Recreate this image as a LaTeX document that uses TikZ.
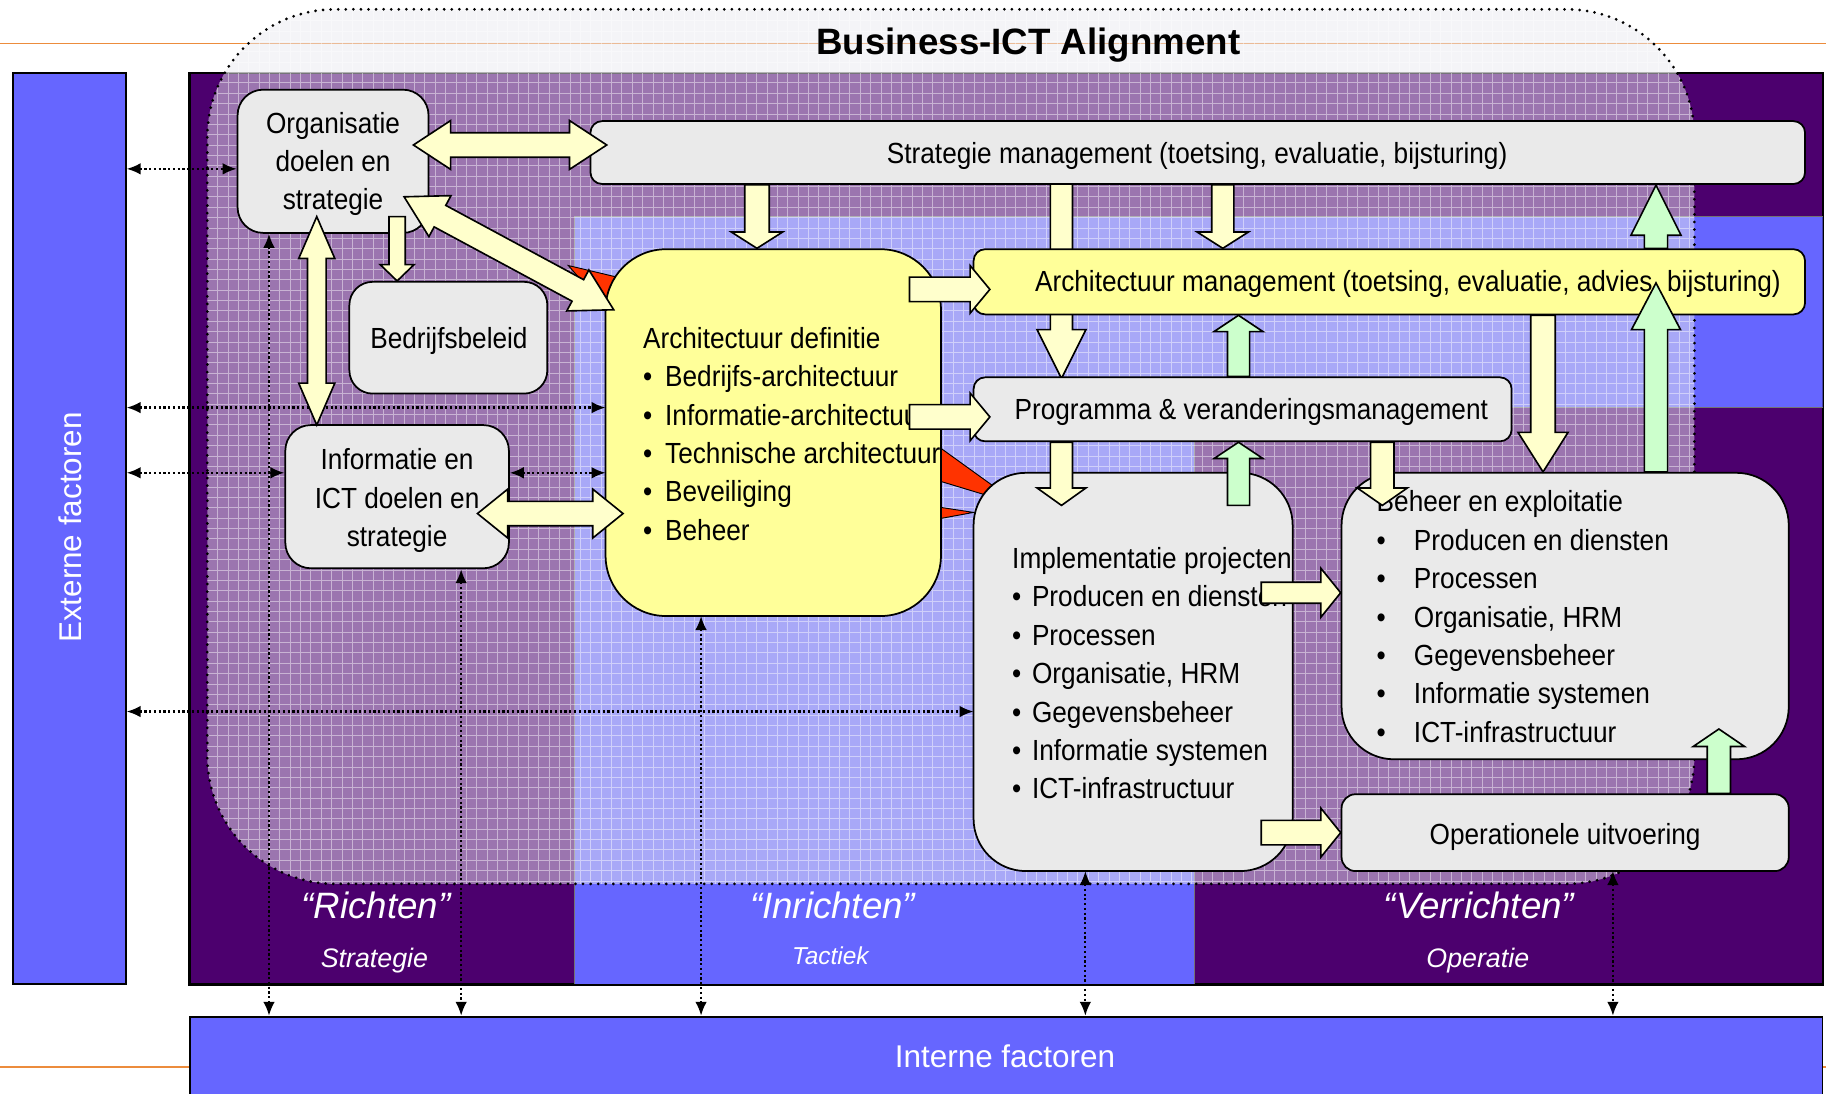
\documentclass[tikz,border=0pt]{standalone}
\usepackage{fontspec}
\setmainfont{Liberation Sans}
\newfontfamily\narrowfont{Liberation Sans}[FakeStretch=0.9]
\usetikzlibrary{calc,arrows.meta}
\definecolor{purp}{RGB}{76,0,110}
\definecolor{blu}{RGB}{102,102,255}
\definecolor{boxgrey}{RGB}{234,234,234}
\definecolor{boxyellow}{RGB}{255,255,153}
\definecolor{arryellow}{RGB}{255,255,204}
\definecolor{arrgreen}{RGB}{204,255,204}
\definecolor{callred}{RGB}{255,51,0}
\definecolor{orangeline}{RGB}{236,140,60}
\definecolor{overlaycol}{RGB}{235,235,240}

% single block arrow: #1 tail, #2 tip, #3 shaft half width, #4 head half width, #5 head length, #6 fill
\newcommand\blkarrow[6]{%
  \path ($(#2)!#5!(#1)$) coordinate (bxH);
  \draw[blockarrow, fill=#6] ($(#1)!#3!90:(#2)$) -- ($(bxH)!#3!90:(#2)$) -- ($(bxH)!#4!90:(#2)$) -- (#2) -- ($(bxH)!#4!-90:(#2)$) -- ($(bxH)!#3!-90:(#2)$) -- ($(#1)!#3!-90:(#2)$) -- cycle;}
% double block arrow
\newcommand\dblkarrow[6]{%
  \path ($(#1)!#5!(#2)$) coordinate (bxA) ($(#2)!#5!(#1)$) coordinate (bxB);
  \draw[blockarrow, fill=#6] (#1) -- ($(bxA)!#4!90:(#2)$) -- ($(bxA)!#3!90:(#2)$) -- ($(bxB)!#3!90:(#2)$) -- ($(bxB)!#4!90:(#2)$) -- (#2) -- ($(bxB)!#4!-90:(#2)$) -- ($(bxB)!#3!-90:(#2)$) -- ($(bxA)!#3!-90:(#2)$) -- ($(bxA)!#4!-90:(#2)$) -- cycle;}

\begin{document}
\begin{tikzpicture}[x=1pt,y=-1pt,
  box/.style={draw=black, line width=1.5pt, inner sep=0pt},
  greyb/.style={box, fill=boxgrey},
  yelb/.style={box, fill=boxyellow},
  txt/.style={inner sep=0pt, font=\narrowfont\fontsize{25}{30}\selectfont},
  lbl/.style={inner sep=0pt, text=white, font=\fontsize{27}{30}\selectfont},
  colbig/.style={inner sep=0pt, text=white, font=\itshape\fontsize{31.5}{34}\selectfont, anchor=base},
  colsmall/.style={inner sep=0pt, text=white, font=\itshape\fontsize{23}{26}\selectfont, anchor=base},
  dotarrow/.style={line width=1.9pt, dash pattern=on 1.9pt off 2.2pt, {Latex[length=12pt,width=10pt]}-{Latex[length=12pt,width=10pt]}},
  blockarrow/.style={draw=black, line width=1.4pt, line join=miter},
  zoneline/.style={draw=black!55, line width=1pt},
  callout/.style={fill=callred, draw=black, line width=0.8pt}]
\useasboundingbox (0,0) rectangle (1568,939);
\fill[white] (0,0) rectangle (1568,939);
\draw[orangeline, line width=1pt] (0,37) -- (1568,37);
\draw[orangeline, line width=1.4pt] (0,916) -- (1568,916);

% background zones
\node[box, fill=purp, minimum width=1402pt, minimum height=782pt] (main) at (864,454) {};
\fill[blu] (493,186) -- (1565,186) -- (1565,350) -- (1026,350) -- (1026,845) -- (493,845) -- cycle;
\draw[zoneline] (493,845) -- (493,186) -- (1565,186);
\draw[zoneline] (1565,350) -- (1026,350) -- (1026,845);
\draw[line width=1.5pt] (main.north west) rectangle (main.south east);
\node[box, fill=blu, minimum width=97pt, minimum height=782pt] (ext) at (59.5,454) {};
\node[box, fill=blu, minimum width=1402pt, minimum height=70pt] (int) at (864,908) {};

% Business-ICT alignment overlay
\fill[overlaycol, opacity=0.5, rounded corners=110pt] (178,8) rectangle (1455,759);
\begin{scope}
  \clip[rounded corners=110pt] (178,8) rectangle (1455,759);
  \draw[white, opacity=0.45, line width=0.8pt, step=8.9pt] (178,8) grid (1455,759);
\end{scope}
\draw[line width=2.6pt, line cap=round, dash pattern=on 0pt off 6.5pt, rounded corners=110pt] (178,8) rectangle (1455,759);
\node[inner sep=0pt, anchor=base, font=\bfseries\fontsize{31.5}{36}\selectfont] (title) at (883,47) {Business-ICT Alignment};

% side labels
\node[lbl, rotate=90, anchor=base] (extlbl) at (70,453) {Externe factoren};
\node[lbl, anchor=base] (intlbl) at (863,917) {Interne factoren};
\node[colbig] (c1) at (323,789) {“Richten”};
\node[colbig] (c2) at (715,789) {“Inrichten”};
\node[colbig] (c3) at (1270,789) {“Verrichten”};
\node[colsmall] (c1s) at (321.5,831) {Strategie};
\node[colsmall, font=\itshape\fontsize{21}{24}\selectfont] (c2s) at (713,828) {Tactiek};
\node[colsmall] (c3s) at (1269,831) {Operatie};

% boxes (positions)
\node[greyb, minimum width=164pt, minimum height=123pt, rounded corners=22pt] (org) at (286,138.5) {};
\node[greyb, minimum width=170pt, minimum height=96pt, rounded corners=20pt] (bed) at (385,290) {};
\node[greyb, minimum width=192pt, minimum height=123pt, rounded corners=22pt] (inf) at (341,426.5) {};

% dotted connectors
\draw[dotarrow] (ext.east |- 0,145) -- (org.west |- 0,145);
\draw[dotarrow] (ext.east |- 0,350) -- (520,350) coordinate (adw1);
\draw[dotarrow] (ext.east |- 0,406) -- (inf.west |- 0,406);
\draw[dotarrow] (inf.east |- 0,406) -- (520,406) coordinate (adw2);
\draw[dotarrow] (ext.east |- 0,611) -- (836,611) coordinate (ipw);
\draw[dotarrow] (org.south -| 231,0) -- (int.north -| 231,0);
\draw[dotarrow] (inf.south -| 396,0) -- (int.north -| 396,0);
\draw[dotarrow] (602,529) coordinate (ads) -- (int.north -| 602,0);
\draw[dotarrow] (932,748) coordinate (ips) -- (int.north -| 932,0);
\draw[dotarrow] (1385,748) coordinate (ous) -- (int.north -| 1385,0);

% callout pointers
\draw[callout] (488,228) -- (530,238) -- (530,276) -- cycle;
\draw[callout] (790,372) -- (876,434) -- (790,408) -- cycle;
\draw[callout] (790,433) -- (836,440) -- (790,448.5) -- cycle;

% arrow behind Architectuur management
\coordinate (i1) at (911.5,158); \coordinate (i2) at (911.5,325);
\blkarrow{i1}{i2}{9.5pt}{21pt}{42pt}{arryellow}

\node[greyb, minimum width=1043pt, minimum height=54pt, rounded corners=10pt] (sm) at (1028.5,131) {};
\node[yelb, minimum width=288pt, minimum height=315pt, rounded corners=52pt] (ad) at (664,371.5) {};
\node[yelb, minimum width=714pt, minimum height=56pt, rounded corners=10pt] (am) at (1193,242) {};
\node[greyb, minimum width=462pt, minimum height=55pt, rounded corners=10pt] (pv) at (1067,351.5) {};
\node[greyb, minimum width=274pt, minimum height=342pt, rounded corners=45pt] (ip) at (973,577) {};
\node[greyb, minimum width=384pt, minimum height=246pt, rounded corners=45pt] (be) at (1344,529) {};
\node[greyb, minimum width=384pt, minimum height=66pt, rounded corners=12pt] (ou) at (1344,715) {};

% texts
\node[txt, anchor=base] (org1) at (286,114.5) {Organisatie};
\node[txt, anchor=base] (org2) at (286,147) {doelen en};
\node[txt, anchor=base] (org3) at (286,179.5) {strategie};
\node[txt, anchor=base] (bedt) at (385.5,299) {Bedrijfsbeleid};
\node[txt, anchor=base] (inf1) at (341,403.5) {Informatie en};
\node[txt, anchor=base] (inf2) at (341,436.5) {ICT doelen en};
\node[txt, anchor=base] (inf3) at (341,469) {strategie};
\node[txt, anchor=base] (smt) at (1028,140) {Strategie management (toetsing, evaluatie, bijsturing)};
\node[txt, anchor=base] (amt) at (1209,250.5) {Architectuur management (toetsing, evaluatie, advies, bijsturing)};
\node[txt, anchor=base] (pvt) at (1074.5,360.5) {Programma \& veranderingsmanagement};
\node[txt, anchor=base] (out) at (1344,725.5) {Operationele uitvoering};

\node[txt, anchor=base west] (ad0) at (552,299) {Architectuur definitie};
\foreach \lbltext [count=\i] in {Bedrijfs-architectuur, Informatie-architectuur, Technische architectuur, Beveiliging, Beheer}
  \node[txt, anchor=base west] (ad\i) at (552,299+33*\i) {\makebox[19pt][l]{•}\lbltext};
\node[txt, anchor=base west] (ip0) at (869,488) {Implementatie projecten};
\foreach \lbltext [count=\i] in {Producen en diensten, Processen, {Organisatie, HRM}, Gegevensbeheer, Informatie systemen, ICT-infrastructuur}
  \node[txt, anchor=base west] (ip\i) at (869,488+33*\i) {\makebox[17pt][l]{•}\lbltext};
\node[txt, anchor=base west] (be0) at (1182,439.5) {Beheer en exploitatie};
\foreach \lbltext [count=\i] in {Producen en diensten, Processen, {Organisatie, HRM}, Gegevensbeheer, Informatie systemen, ICT-infrastructuur}
  \node[txt, anchor=base west] (be\i) at (1182,439.5+33*\i) {\makebox[32pt][l]{•}\lbltext};

% block arrows
\coordinate (a1) at (355,124.5); \coordinate (a2) at (521,124.5);
\dblkarrow{a1}{a2}{10.5pt}{21pt}{32pt}{arryellow}
\coordinate (b1) at (347,169); \coordinate (b2) at (527,266);
\dblkarrow{b1}{b2}{10.5pt}{20pt}{35pt}{arryellow}
\coordinate (c1a) at (272,186); \coordinate (c2a) at (272,365);
\dblkarrow{c1a}{c2a}{8pt}{15.5pt}{36pt}{arryellow}
\coordinate (e1) at (410,441); \coordinate (e2) at (535,441);
\dblkarrow{e1}{e2}{10.5pt}{21pt}{26pt}{arryellow}
\coordinate (d1) at (341,186); \coordinate (d2) at (bed.north -| 341,0);
\blkarrow{d1}{d2}{7pt}{14.5pt}{14pt}{arryellow}
\coordinate (f1) at (sm.south -| 650,0); \coordinate (f2) at (ad.north -| 650,0);
\blkarrow{f1}{f2}{10.5pt}{22pt}{14pt}{arryellow}
\coordinate (g1) at (781,248.5); \coordinate (g2) at (850,248.5);
\blkarrow{g1}{g2}{10.5pt}{20.5pt}{17pt}{arryellow}
\coordinate (h1) at (781,358); \coordinate (h2) at (850,358);
\blkarrow{h1}{h2}{10.5pt}{20.5pt}{17pt}{arryellow}
\coordinate (j1) at (sm.south -| 1050,0); \coordinate (j2) at (am.north -| 1050,0);
\blkarrow{j1}{j2}{9.5pt}{22pt}{14pt}{arryellow}
\coordinate (k1) at (pv.south -| 911.5,0); \coordinate (k2) at (911.5,434);
\blkarrow{k1}{k2}{9.5pt}{21pt}{15pt}{arryellow}
\coordinate (n1) at (pv.south -| 1187,0); \coordinate (n2) at (1187,434);
\blkarrow{n1}{n2}{10pt}{21.5pt}{15pt}{arryellow}
\coordinate (o1) at (am.south -| 1325,0); \coordinate (o2) at (be.north -| 1325,0);
\blkarrow{o1}{o2}{10.5pt}{21.5pt}{34pt}{arryellow}
\coordinate (r1) at (1083,509); \coordinate (r2) at (be.west |- 0,509);
\blkarrow{r1}{r2}{9pt}{21pt}{17pt}{arryellow}
\coordinate (s1) at (1083,715); \coordinate (s2) at (ou.west |- 0,715);
\blkarrow{s1}{s2}{10.5pt}{21pt}{17pt}{arryellow}
\coordinate (l1) at (1063.5,434); \coordinate (l2) at (pv.south -| 1063.5,0);
\blkarrow{l1}{l2}{9.5pt}{21pt}{14pt}{arrgreen}
\coordinate (m1) at (pv.north -| 1063.5,0); \coordinate (m2) at (am.south -| 1063.5,0);
\blkarrow{m1}{m2}{9.5pt}{21pt}{14pt}{arrgreen}
\coordinate (p1) at (be.north -| 1422,0); \coordinate (p2) at (1422,243);
\blkarrow{p1}{p2}{10pt}{21pt}{40pt}{arrgreen}
\coordinate (q1) at (am.north -| 1422,0); \coordinate (q2) at (1422,159);
\blkarrow{q1}{q2}{10pt}{21.5pt}{43pt}{arrgreen}
\coordinate (t1) at (ou.north -| 1476,0); \coordinate (t2) at (1476,626);
\blkarrow{t1}{t2}{10pt}{22pt}{15pt}{arrgreen}
\end{tikzpicture}
\end{document}
